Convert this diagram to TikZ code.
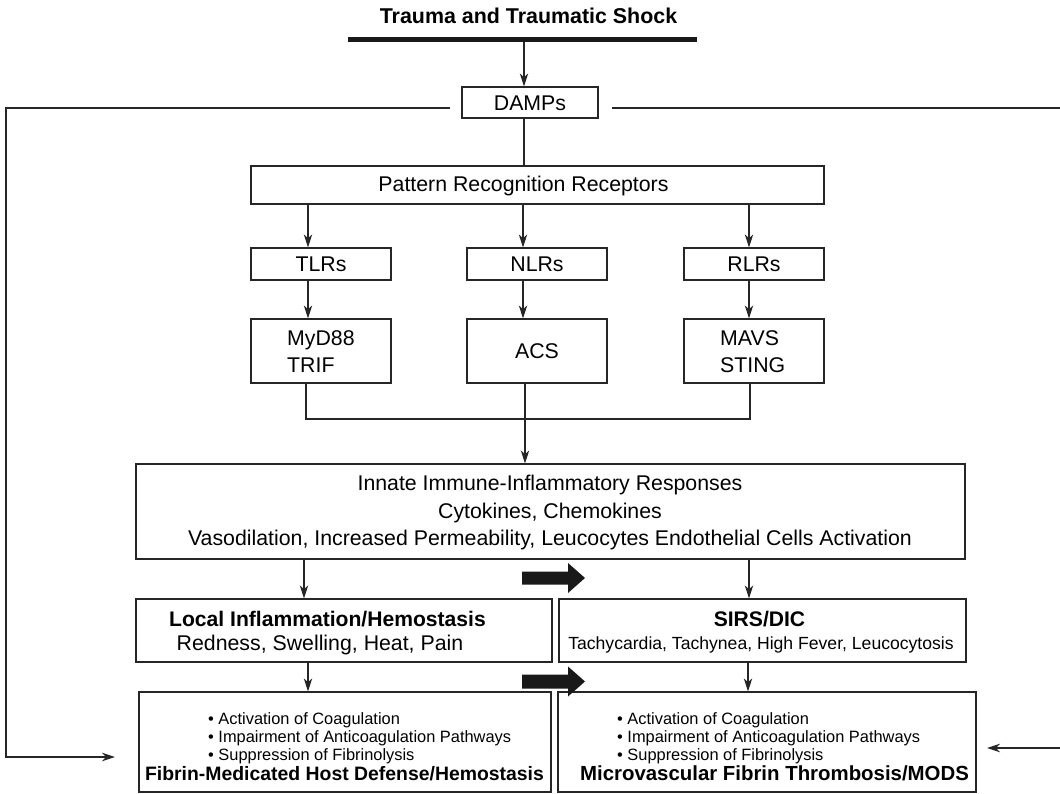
\documentclass[tikz,border=0pt]{standalone}
\usepackage{fontspec}
\setmainfont{Liberation Sans}
\usetikzlibrary{arrows.meta,calc}
\begin{document}
\begin{tikzpicture}[x=1pt,y=-1pt,
  box/.style={draw=black!85, line width=1.3pt, inner sep=0pt, rectangle},
  conn/.style={draw=black!85, line width=1.2pt},
  arr/.style={conn, -{Stealth[length=13pt,width=8.5pt,inset=4pt]}},
  txt/.style={inner sep=0pt, anchor=base, font=\fontsize{21.3}{25}\selectfont},
  txtl/.style={txt, anchor=base west},
  btxt/.style={inner sep=0pt, anchor=base, font=\fontsize{21.1}{25}\selectfont\bfseries},
  stxt/.style={inner sep=0pt, anchor=base, font=\fontsize{17.6}{21}\selectfont},
  bul/.style={inner sep=0pt, anchor=base west, font=\fontsize{16.4}{18}\selectfont},
  thick arrow/.style={fill=black!90, draw=none}
]
\useasboundingbox (0,0) rectangle (1060,794);

% title and bar
\node[inner sep=0pt, anchor=base, font=\fontsize{21.4}{25}\selectfont\bfseries] (title) at (528.5,24) {Trauma and Traumatic Shock};
\draw[line width=5pt, black!90] (348,40) -- (697,40);
\coordinate (bartop) at (524,42.5);

% boxes
\node[box, minimum width=136pt, minimum height=31pt] (damps) at (530,102.5) {};
\node[txt] (dampst) at (530,111) {DAMPs};

\node[box, minimum width=573pt, minimum height=38pt] (prr) at (537.5,185) {};
\node[txt] (prrt) at (523.5,192) {Pattern Recognition Receptors};

\node[box, minimum width=140pt, minimum height=32pt] (tlr) at (321,264) {};
\node[box, minimum width=140pt, minimum height=32pt] (nlr) at (537,264) {};
\node[box, minimum width=140pt, minimum height=32pt] (rlr) at (754,264) {};
\node[txt] (tlrt) at (321,271.5) {TLRs};
\node[txt] (nlrt) at (537,271.5) {NLRs};
\node[txt] (rlrt) at (754,271.5) {RLRs};

\node[box, minimum width=140pt, minimum height=64pt] (myd) at (321,351) {};
\node[box, minimum width=140pt, minimum height=64pt] (acs) at (537,351) {};
\node[box, minimum width=140pt, minimum height=64pt] (mavs) at (754,351) {};
\node[txtl] (mydt1) at (287,345) {MyD88};
\node[txtl] (mydt2) at (287,372) {TRIF};
\node[txt] (acst) at (537,358.5) {ACS};
\node[txtl] (mavst1) at (720,345) {MAVS};
\node[txtl] (mavst2) at (720,372) {STING};

\node[box, minimum width=829pt, minimum height=95pt] (innate) at (550.5,511.5) {};
\node[txt] (inn1) at (550,490.5) {Innate Immune-Inflammatory Responses};
\node[txt] (inn2) at (550,518) {Cytokines, Chemokines};
\node[txt] (inn3) at (550,545.5) {Vasodilation, Increased Permeability, Leucocytes Endothelial Cells Activation};

\node[box, minimum width=416pt, minimum height=63pt] (local) at (344,630.5) {};
\node[btxt] (loc1) at (327.5,626) {Local Inflammation/Hemostasis};
\node[txt] (loc2) at (320,650) {Redness, Swelling, Heat, Pain};

\node[box, minimum width=407pt, minimum height=63pt] (sirs) at (762.5,630.5) {};
\node[btxt] (sir1) at (759.5,626) {SIRS/DIC};
\node[stxt] (sir2) at (761,649) {Tachycardia, Tachynea, High Fever, Leucocytosis};

\node[box, minimum width=412pt, minimum height=100pt] (bl) at (345,742) {};
\node[bul] (bl1) at (208,724) {• Activation of Coagulation};
\node[bul] (bl2) at (208,742) {• Impairment of Anticoagulation Pathways};
\node[bul] (bl3) at (208,760) {• Suppression of Fibrinolysis};
\node[inner sep=0pt, anchor=base, font=\fontsize{19.4}{23}\selectfont\bfseries] (bl4) at (344.5,780) {Fibrin-Medicated Host Defense/Hemostasis};

\node[box, minimum width=418pt, minimum height=100pt] (br) at (767,742) {};
\node[bul] (br1) at (617,724) {• Activation of Coagulation};
\node[bul] (br2) at (617,742) {• Impairment of Anticoagulation Pathways};
\node[bul] (br3) at (617,760) {• Suppression of Fibrinolysis};
\node[inner sep=0pt, anchor=base, font=\fontsize{20.4}{23}\selectfont\bfseries] (br4) at (774.5,780) {Microvascular Fibrin Thrombosis/MODS};

% x positions of connectors
\coordinate (x524) at (524,0);
\coordinate (x308) at (308,0);
\coordinate (x523) at (523,0);
\coordinate (x749) at (749,0);
\coordinate (x304) at (304,0);
\coordinate (x748) at (748,0);
\coordinate (x525) at (525,0);
\coordinate (junL) at (306,419);
\coordinate (junR) at (750,419);

% connectors
\draw[arr] (bartop) -- (damps.north -| bartop);
\draw[conn] (damps.south -| x524) -- (prr.north -| x524);
\draw[arr] (prr.south -| x308) -- (tlr.north -| x308);
\draw[arr] (prr.south -| x523) -- (nlr.north -| x523);
\draw[arr] (prr.south -| x749) -- (rlr.north -| x749);
\draw[arr] (tlr.south -| x308) -- (myd.north -| x308);
\draw[arr] (nlr.south -| x523) -- (acs.north -| x523);
\draw[arr] (rlr.south -| x749) -- (mavs.north -| x749);
\draw[conn] (myd.south -| junL) -- (junL) -- (junR) -- (mavs.south -| junR);
\draw[arr] (acs.south -| x525) -- (innate.north -| x525);
\draw[arr] (innate.south -| x304) -- (local.north -| x304);
\draw[arr] (innate.south -| x749) -- (sirs.north -| x749);
\draw[arr] (local.south -| x308) -- (bl.north -| x308);
\draw[arr] (sirs.south -| x748) -- (br.north -| x748);

% feedback lines
\coordinate (lstart) at (450,108);
\coordinate (lcorner) at (6,757);
\coordinate (ltip) at (115,757);
\coordinate (rstart) at (612,108);
\coordinate (rend) at (1060,108);
\coordinate (rbase) at (1060,748);
\coordinate (rtip) at (987,748);
\draw[arr] (lstart) -| (lcorner) -- (ltip);
\draw[conn] (rstart) -- (rend);
\draw[arr] (rbase) -- (rtip);

% thick arrows
\fill[thick arrow] (522,571.5) -- (568,571.5) -- (568,563) -- (585,578) -- (568,593) -- (568,584.5) -- (522,584.5) -- cycle;
\fill[thick arrow] (522,674.5) -- (568,674.5) -- (568,666.5) -- (585,681.5) -- (568,696.5) -- (568,688.5) -- (522,688.5) -- cycle;
\end{tikzpicture}
\end{document}
